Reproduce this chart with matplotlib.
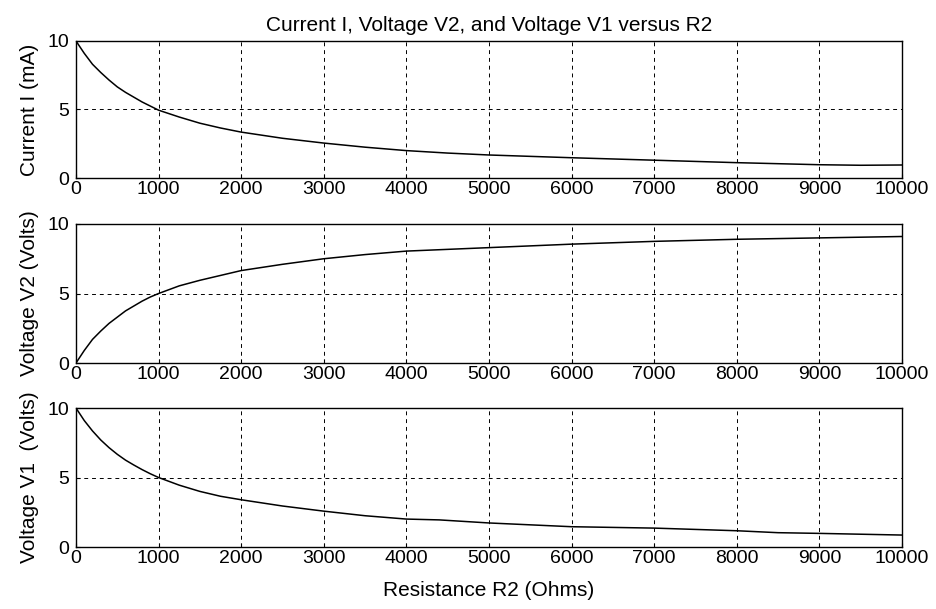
import numpy as np
import matplotlib
matplotlib.use("Agg")
import matplotlib.pyplot as plt

plt.rcParams['font.family'] = ['Liberation Sans', 'DejaVu Sans']

# Values
r2_current = [0, 100, 200, 300, 400, 500, 600, 700, 800, 900, 1000, 1250, 1500,
              1750, 2000, 2500, 3000, 3500, 4000, 4500, 5000, 6000, 7000, 8000,
              9000, 9500, 10000]
current_ma = [10.0, 9.1, 8.3, 7.7, 7.15, 6.65, 6.25, 5.9, 5.55, 5.25, 4.95, 4.45,
              4.0, 3.65, 3.35, 2.9, 2.55, 2.25, 2.0, 1.82, 1.68, 1.48, 1.3, 1.12,
              0.97, 0.93, 0.95]

r2_v2 = [0, 100, 200, 300, 400, 500, 600, 700, 800, 900, 1000, 1250, 1500, 1750,
         2000, 2500, 3000, 3500, 4000, 5000, 6000, 7000, 8000, 9000, 10000]
voltage_v2 = [0.0, 0.9, 1.7, 2.3, 2.85, 3.3, 3.75, 4.1, 4.45, 4.75, 5.0, 5.55,
              5.95, 6.3, 6.65, 7.1, 7.5, 7.8, 8.05, 8.3, 8.55, 8.75, 8.9, 9.0, 9.1]

r2_v1 = [0, 100, 200, 300, 400, 500, 600, 700, 800, 900, 1000, 1250, 1500, 1750,
         2000, 2500, 3000, 3500, 4000, 4400, 5000, 6000, 7000, 8000, 8500, 9000,
         10000]
voltage_v1 = [10.0, 9.1, 8.35, 7.7, 7.15, 6.67, 6.25, 5.9, 5.57, 5.27, 5.0, 4.45,
              4.0, 3.65, 3.4, 2.95, 2.58, 2.25, 2.01, 1.95, 1.73, 1.46, 1.36, 1.17,
              1.03, 0.98, 0.86]

x_ticks = [0, 1000, 2000, 3000, 4000, 5000, 6000, 7000, 8000, 9000, 10000]
y_ticks = [0, 5, 10]

panels = [
    (r2_current, current_ma, "Current I (mA)"),
    (r2_v2, voltage_v2, "Voltage V2 (Volts)"),
    (r2_v1, voltage_v1, "Voltage V1  (Volts)"),
]

# axes boxes in figure fractions
left, right = 0.0811, 0.9626
boxes = [(0.7077, 0.9327), (0.4039, 0.6322), (0.1018, 0.330)]

fig = plt.figure(figsize=(9.37, 6.09), dpi=100)

axes = []
for (x, y, label), (bot, top) in zip(panels, boxes):
    ax = fig.add_axes([left, bot, right - left, top - bot])
    ax.plot(x, y, color="black", linewidth=1.1)
    ax.set_xlim(0, 10000)
    ax.set_ylim(0, 10)
    ax.set_xticks(x_ticks)
    ax.set_yticks(y_ticks)
    ax.grid(True, color="black", linestyle=(0, (4, 4)), linewidth=0.7)
    ax.tick_params(direction="in", length=3, labelsize=14, colors="black")
    ax.tick_params(axis="x", pad=2)
    ax.tick_params(axis="y", pad=5)
    for s in ax.spines.values():
        s.set_linewidth(1.0)
    ax.set_ylabel(label, fontsize=15, labelpad=6)
    axes.append(ax)

axes[0].set_title("Current I, Voltage V2, and Voltage V1 versus R2", fontsize=15, pad=7)
axes[2].set_xlabel("Resistance R2 (Ohms)", fontsize=15, labelpad=10)

fig.savefig("out.png", dpi=100)
